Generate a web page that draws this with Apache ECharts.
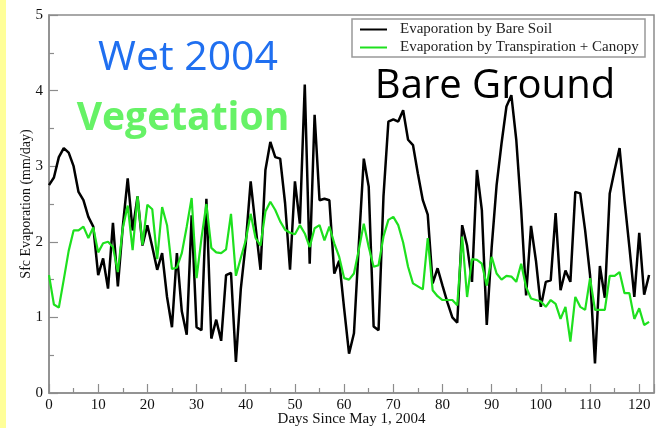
<!DOCTYPE html>
<html>
<head>
<meta charset="utf-8">
<script src="https://cdn.jsdelivr.net/npm/echarts@6/dist/echarts.min.js"></script>
<style>
html,body{margin:0;padding:0;background:#fff;}
#wrap{position:relative;width:656px;height:428px;overflow:hidden;}
#strip{position:absolute;left:0;top:0;width:6px;height:428px;background:#ffff99;}
#chart{position:absolute;left:0;top:0;width:656px;height:428px;}
</style>
</head>
<body>
<div id="wrap"><div id="chart"></div><div id="strip"></div></div>
<script>
// Evaporation by bare soil (mm/day), days 0..122 since May 1, 2004
const bareSoil = [
  2.75, 2.85, 3.12, 3.24, 3.18, 3.00, 2.66, 2.55, 2.33, 2.20,
  1.56, 1.78, 1.38, 2.25, 1.41, 2.20, 2.84, 2.15, 2.60, 1.95,
  2.22, 1.93, 1.63, 1.85, 1.27, 0.87, 1.85, 1.08, 0.77, 2.35,
  0.87, 0.83, 2.57, 0.72, 0.97, 0.69, 1.56, 1.59, 0.41, 1.38,
  1.98, 2.80, 2.20, 1.63, 2.95, 3.32, 3.12, 3.10, 2.51, 1.63,
  2.80, 2.24, 4.08, 1.71, 3.68, 2.55, 2.57, 2.55, 1.58, 1.75,
  1.12, 0.52, 0.79, 1.98, 3.10, 2.73, 0.88, 0.83, 2.60, 3.59,
  3.62, 3.59, 3.74, 3.35, 3.28, 2.90, 2.55, 2.36, 1.45, 1.65,
  1.42, 1.20, 1.00, 0.93, 2.22, 1.95, 1.47, 2.95, 2.42, 0.90,
  1.93, 2.75, 3.30, 3.79, 3.94, 3.35, 2.42, 1.29, 2.21, 1.75,
  1.14, 1.47, 1.49, 2.38, 1.36, 1.62, 1.47, 2.66, 2.64, 2.15,
  1.56, 0.39, 1.68, 1.26, 2.64, 2.95, 3.24, 2.55, 1.93, 1.27,
  2.12, 1.30, 1.56
];
// Evaporation by transpiration + canopy (mm/day)
const transCanopy = [
  1.56, 1.17, 1.13, 1.50, 1.88, 2.15, 2.15, 2.20, 2.05, 2.19,
  1.86, 1.98, 2.00, 1.93, 1.60, 2.18, 2.48, 1.89, 2.60, 1.96,
  2.49, 2.43, 1.77, 2.46, 2.22, 1.64, 1.66, 1.85, 2.20, 2.58,
  1.52, 2.05, 2.50, 1.92, 1.86, 1.85, 1.90, 2.37, 1.55, 1.79,
  2.02, 2.37, 2.05, 1.95, 2.40, 2.53, 2.42, 2.27, 2.16, 2.12,
  2.10, 2.22, 2.11, 1.93, 2.18, 2.22, 2.02, 2.20, 1.98, 1.80,
  1.52, 1.50, 1.58, 1.90, 2.24, 1.93, 1.67, 1.69, 2.07, 2.29,
  2.33, 2.22, 1.99, 1.67, 1.45, 1.41, 1.37, 2.05, 1.36, 1.28,
  1.23, 1.23, 1.23, 1.16, 2.07, 1.27, 1.77, 1.76, 1.71, 1.42,
  1.80, 1.58, 1.50, 1.55, 1.54, 1.47, 1.71, 1.40, 1.25, 1.23,
  1.21, 1.14, 1.23, 1.18, 0.98, 1.14, 0.68, 1.27, 1.14, 1.10,
  1.52, 1.10, 1.10, 1.10, 1.55, 1.55, 1.60, 1.32, 1.32, 0.98,
  1.12, 0.90, 0.94
];
const seriesNames = ['Evaporation by Bare Soil', 'Evaporation by Transpiration + Canopy'];
const xTitle = 'Days Since May 1, 2004';
const yTitle = 'Sfc Evaporation (mm/day)';
const xMin = 0, xMax = 123, xStep = 10;
const yMin = 0, yMax = 5, yStep = 1;

const toPairs = arr => arr.map((v, i) => [i, v]);
const serif = '"Liberation Serif", "DejaVu Serif", serif';
const axisGray = '#8c8c8c';

const chart = echarts.init(document.getElementById('chart'), null, {renderer: 'canvas'});
chart.setOption({
  animation: false,
  backgroundColor: '#fff',
  grid: {left: 49, right: 2, top: 15, bottom: 35, outerBoundsMode: 'none', containLabel: false,
    show: true, borderColor: axisGray, borderWidth: 1.5, backgroundColor: 'transparent'},
  xAxis: {
    type: 'value', min: xMin, max: xMax, interval: xStep,
    name: xTitle, nameLocation: 'middle', nameGap: 19, nameMoveOverlap: false,
    nameTextStyle: {fontFamily: serif, fontSize: 15, color: '#111'},
    axisLine: {lineStyle: {color: axisGray, width: 1.5}},
    axisTick: {inside: true, length: 9, lineStyle: {color: axisGray, width: 1.2}},
    minorTick: {show: true, splitNumber: 2, length: 5, lineStyle: {color: axisGray, width: 1.2}},
    axisLabel: {fontFamily: serif, fontSize: 15, color: '#111', margin: 5,
      formatter: v => (v % xStep === 0 ? String(v) : '')},
    splitLine: {show: false}
  },
  yAxis: {
    type: 'value', min: yMin, max: yMax, interval: yStep,
    name: yTitle, nameLocation: 'middle', nameGap: 16, nameRotate: 90, nameMoveOverlap: false,
    nameTextStyle: {fontFamily: serif, fontSize: 14, color: '#111'},
    axisLine: {show: true, lineStyle: {color: axisGray, width: 1.5}},
    axisTick: {show: true, inside: true, length: 9, lineStyle: {color: axisGray, width: 1.2}},
    minorTick: {show: true, splitNumber: 2, length: 5, lineStyle: {color: axisGray, width: 1.2}},
    axisLabel: {fontFamily: serif, fontSize: 15, color: '#111', margin: 6},
    splitLine: {show: false}
  },
  legend: {
    orient: 'vertical', left: 360, top: 22, itemWidth: 27, itemHeight: 14, itemGap: 3,
    padding: 0,
    textStyle: {fontFamily: serif, fontSize: 15, color: '#222', padding: [0, 0, 0, 8]},
    data: seriesNames.map(n => ({name: n, icon: 'path://M0,0 L27,0 L27,2 L0,2 Z'}))
  },
  graphic: [
    {type: 'rect', z: 3, shape: {x: 352, y: 19, width: 293, height: 38},
      style: {fill: '#fff', stroke: '#999', lineWidth: 1.5}},
    {type: 'text', z: 10, x: 188, y: 58, style: {text: 'Wet 2004', fill: '#1f6ff0',
      font: '41px "Open Sans"', textAlign: 'center', textVerticalAlign: 'middle'}},
    {type: 'text', z: 10, x: 183, y: 119, style: {text: 'Vegetation', fill: '#66f266',
      font: 'bold 39px "Open Sans"', textAlign: 'center', textVerticalAlign: 'middle'}},
    {type: 'text', z: 10, x: 495, y: 87, style: {text: 'Bare Ground', fill: '#000',
      font: '40px "Open Sans"', textAlign: 'center', textVerticalAlign: 'middle'}}
  ],
  series: [
    {name: seriesNames[0], type: 'line', data: toPairs(bareSoil), symbol: 'none',
      lineStyle: {color: '#000', width: 2.5}, itemStyle: {color: '#000'}, z: 2},
    {name: seriesNames[1], type: 'line', data: toPairs(transCanopy), symbol: 'none',
      lineStyle: {color: '#1ee01e', width: 2.2}, itemStyle: {color: '#1ee01e'}, z: 3}
  ]
});
</script>
</body>
</html>
